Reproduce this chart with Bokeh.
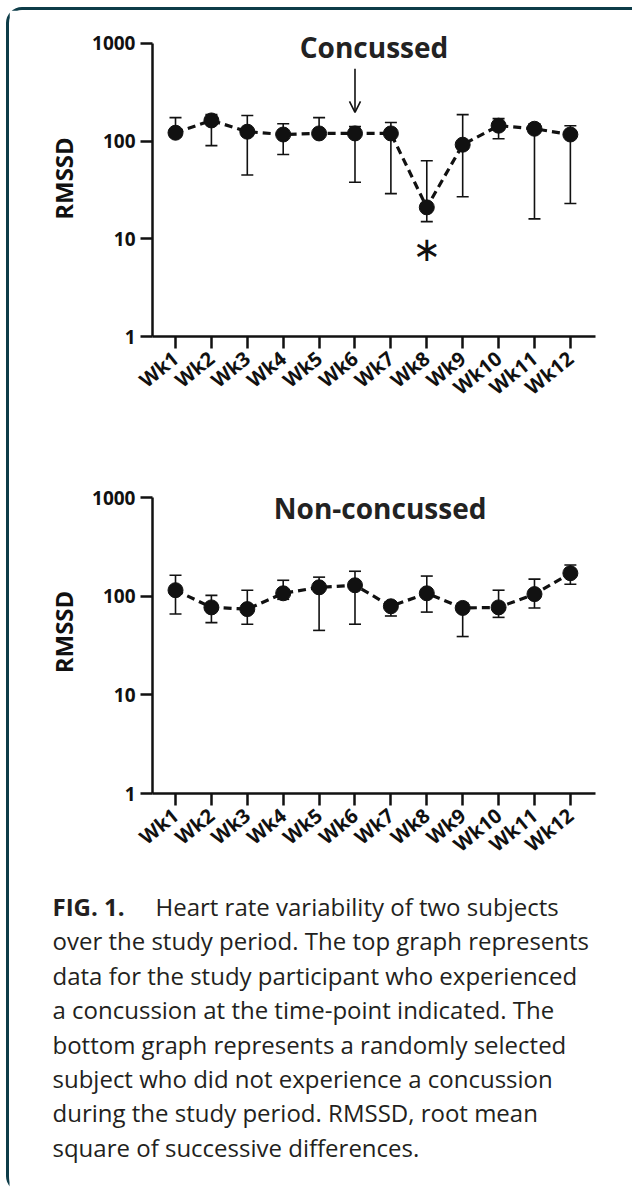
import math
from bokeh.plotting import figure
from bokeh.models import (ColumnDataSource, Whisker, TeeHead, Label, Arrow, OpenHead,
                          FixedTicker, Range1d, PrintfTickFormatter)
from bokeh.layouts import column
from bokeh.embed import file_html
from bokeh.resources import INLINE
from bokeh.core.properties import value

# ---------------- data ----------------
weeks = ["Wk1", "Wk2", "Wk3", "Wk4", "Wk5", "Wk6", "Wk7", "Wk8", "Wk9", "Wk10", "Wk11", "Wk12"]
week_num = list(range(1, 13))

conc_mean = [122, 163, 125, 117, 120, 120, 120, 21, 92, 144, 134, 117]
conc_upper = [174, 187, 183, 151, 174, 141, 155, 63, 187, 170, 151, 144]
conc_lower = [112, 90, 45, 73, 110, 38, 29, 15, 27, 106, 16, 23]

non_mean = [115, 77, 74, 107, 123, 129, 79, 107, 76, 77, 105, 171]
non_upper = [163, 102, 115, 145, 156, 179, 85, 160, 85, 115, 149, 207]
non_lower = [66, 54, 52, 93, 45, 52, 63, 69, 39, 61, 76, 132]

y_ticks = [1, 10, 100, 1000]
concussion_week = 6      # arrow
significant_week = 8     # asterisk

caption_lines = [
    "over the study period. The top graph represents",
    "data for the study participant who experienced",
    "a concussion at the time-point indicated. The",
    "bottom graph represents a randomly selected",
    "subject who did not experience a concussion",
    "during the study period. RMSSD, root mean",
    "square of successive differences.",
]

INK = "#111111"
FONT = "Open Sans"
FW = 623


def make_chart(mean, upper, lower, height, top, y_end, bottom):
    src = ColumnDataSource(dict(x=week_num, y=mean, upper=upper, lower=lower))
    p = figure(width=FW, height=height, y_axis_type="log",
               x_range=Range1d(0.359, 12.70), y_range=Range1d(1, y_end),
               output_backend="svg", toolbar_location=None,
               min_border_left=143, min_border_right=37,
               min_border_top=top, min_border_bottom=bottom)
    p.outline_line_color = None
    p.xgrid.grid_line_color = None
    p.ygrid.grid_line_color = None
    p.background_fill_color = "white"
    p.border_fill_color = "white"

    w = Whisker(base="x", upper="upper", lower="lower", source=src,
                line_color=INK, line_width=1.6,
                upper_head=TeeHead(size=12, line_color=INK, line_width=1.6),
                lower_head=TeeHead(size=12, line_color=INK, line_width=1.6))
    p.add_layout(w)
    p.line("x", "y", source=src, line_color=INK, line_width=3.2, line_dash="8 5")
    p.scatter("x", "y", source=src, size=15, fill_color=INK, line_color=INK)

    for ax in (p.xaxis[0], p.yaxis[0]):
        ax.axis_line_width = 2.5
        ax.axis_line_color = INK
        ax.major_tick_line_width = 2.5
        ax.major_tick_line_color = INK
        ax.major_tick_out = 12
        ax.major_tick_in = 0
        ax.minor_tick_line_color = None
        ax.major_label_text_font = FONT
        ax.major_label_text_font_style = "bold"
        ax.major_label_text_color = INK

    p.xaxis.ticker = FixedTicker(ticks=week_num)
    p.xaxis.major_label_overrides = {i: w_ for i, w_ in zip(week_num, weeks)}
    p.xaxis.major_label_orientation = 0.68
    p.xaxis.major_label_standoff = 7
    p.xaxis.major_label_text_font_size = "20px"

    p.yaxis.ticker = FixedTicker(ticks=y_ticks)
    p.yaxis.bounds = (1, 1000)
    p.yaxis.formatter = PrintfTickFormatter(format="%d")
    p.yaxis.major_label_standoff = 5
    p.yaxis.major_label_text_font_size = "19px"
    p.yaxis.axis_label = "RMSSD"
    p.yaxis.axis_label_text_font = FONT
    p.yaxis.axis_label_text_font_style = "bold"
    p.yaxis.axis_label_text_font_size = "24px"
    p.yaxis.axis_label_text_color = INK
    p.yaxis.axis_label_standoff = 9
    return p


# top chart: frame from page y 20 (1000 at 43) to 336 (value 1)
p1 = make_chart(conc_mean, conc_upper, conc_lower, 440, 10, 10 ** (3 + 23 / 97.7), 114)
p1.add_layout(Label(x=6.53, y=930, text="Concussed", text_align="center",
                    text_baseline="middle", text_font=FONT, text_font_style="bold",
                    text_font_size="28px", text_color="#222222"))
ci = concussion_week - 1
p1.add_layout(Arrow(end=OpenHead(size=11, line_width=1.6, line_color=INK),
                    x_start=concussion_week, y_start=conc_upper[ci] * 3.9,
                    x_end=concussion_week, y_end=conc_upper[ci] * 1.4,
                    line_width=1.6, line_color=INK))
si = significant_week - 1
p1.text(x=[significant_week], y=[conc_lower[si] / 1.9], text=["\u2217"],
        text_align="center", text_baseline="middle", text_font=value("DejaVu Sans"),
        text_font_size="34px", text_color=INK)

# bottom chart: frame from page y 470 (1000 at 497) to 793 (value 1)
p2 = make_chart(non_mean, non_upper, non_lower, 420, 20, 10 ** (3 + 27 / 98.5), 77)
p2.add_layout(Label(x=6.7, y=782, text="Non-concussed", text_align="center",
                    text_baseline="middle", text_font=FONT, text_font_style="bold",
                    text_font_size="28px", text_color="#222222"))

# ---------------- caption ----------------
CH = 322
BASE = 36
p3 = figure(width=FW, height=CH, x_range=Range1d(0, FW), y_range=Range1d(CH, 0),
            output_backend="svg", toolbar_location=None, frame_align=False,
            x_axis_location=None, y_axis_location=None, min_border=0)
p3.grid.visible = False
p3.outline_line_color = None
p3.add_layout(Label(x=43, y=BASE, text="FIG. 1.", text_font=FONT, text_font_style="bold",
                    text_font_size="24px", text_color="#231f20", text_baseline="alphabetic"))
p3.add_layout(Label(x=146, y=BASE, text="Heart rate variability of two subjects", text_font=FONT,
                    text_font_size="24px", text_color="#231f20", text_baseline="alphabetic"))
p3.text(x=[43] * len(caption_lines), y=[BASE + 34.4 * (i + 1) for i in range(len(caption_lines))],
        text=caption_lines, text_font=value(FONT), text_font_size="24px",
        text_color="#231f20", text_baseline="alphabetic")

layout = column(p1, p2, p3, spacing=0,
                styles={"border-top": "3px solid #0d3c48",
                        "border-left": "3px solid #0d3c48",
                        "border-top-left-radius": "16px",
                        "border-bottom-left-radius": "16px",
                        "margin-left": "6px", "margin-top": "7px",
                        "background": "white"})

open("out.html", "w").write(file_html(layout, INLINE))
